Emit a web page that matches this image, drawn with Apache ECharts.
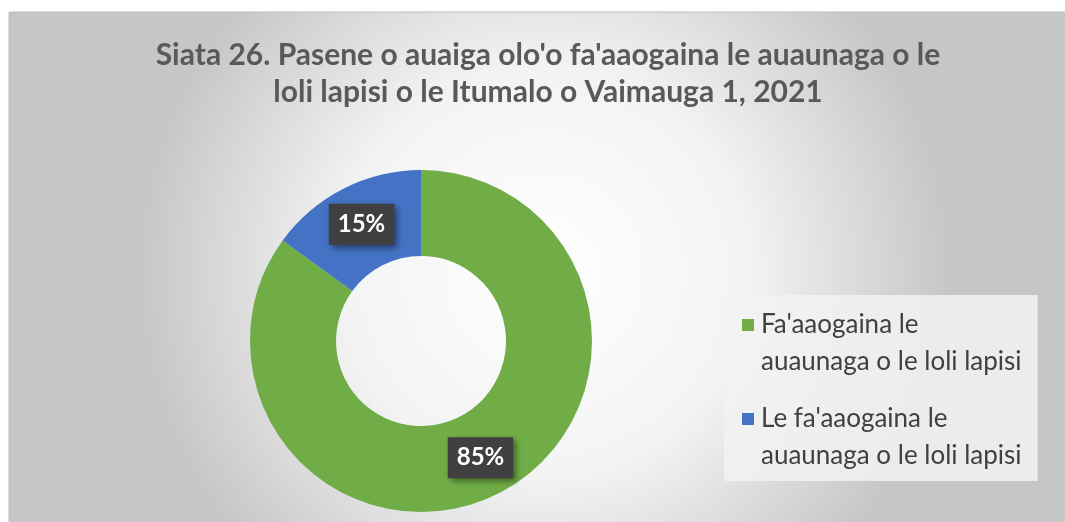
<!DOCTYPE html>
<html>
<head>
<meta charset="utf-8">
<script src="https://cdn.jsdelivr.net/npm/echarts@6/dist/echarts.min.js"></script>
<style>
  html, body { margin: 0; padding: 0; background: #ffffff; }
  #main { width: 1065px; height: 522px; }
</style>
</head>
<body>
<div id="main"></div>
<script>
// 数据
const categories = [
  "Fa'aaogaina le auaunaga o le loli lapisi",
  "Le fa'aaogaina le auaunaga o le loli lapisi"
]
// 图例分两行显示
const legendLines = [
  ["Fa'aaogaina le", "auaunaga o le loli lapisi"],
  ["Le fa'aaogaina le", "auaunaga o le loli lapisi"]
]
const values = [85, 15]
const colors = ['#70ad47', '#4472c4']
const titleText = "Siata 26. Pasene o auaiga olo'o fa'aaogaina le auaunaga o le\nloli lapisi o le Itumalo o Vaimauga 1, 2021"

const myChart = echarts.init(document.getElementById('main'), null, { renderer: 'canvas' })

const legendRich = {
  t: { fontFamily: 'Lato', fontSize: 26, lineHeight: 37, color: '#404040', padding: [0, 0, 0, 7] },
  t2: { fontFamily: 'Lato', fontSize: 26, lineHeight: 37, color: '#404040', padding: [0, 0, 0, 19] }
}
colors.forEach((c, i) => {
  legendRich['sq' + i] = { backgroundColor: c, width: 12, height: 12 }
})

const option = {
  animation: false,
  graphic: [
    {
      type: 'rect',
      z: -10,
      silent: true,
      shape: { x: 9, y: 12, width: 1070, height: 520 },
      style: {
        fill: new echarts.graphic.RadialGradient(0.5, 0.5, 0.78, [
          { offset: 0, color: '#ffffff' },
          { offset: 0.5, color: '#f3f3f3' },
          { offset: 1, color: '#c6c6c6' }
        ]),
        stroke: '#bfbfbf',
        lineWidth: 1
      }
    }
  ],
  title: {
    text: titleText,
    left: 543,
    textAlign: 'center',
    top: 32,
    textStyle: {
      fontFamily: 'Lato',
      fontWeight: 'bold',
      fontSize: 30,
      lineHeight: 37,
      color: '#595959'
    }
  },
  legend: {
    orient: 'vertical',
    left: 724,
    top: 295,
    padding: [17, 16, 12, 13],
    itemGap: 31,
    itemWidth: 0,
    itemHeight: 0,
    icon: 'none',
    backgroundColor: 'rgba(242,242,242,0.85)',
    data: categories,
    formatter: function (name) {
      const i = categories.indexOf(name)
      return '{sq' + i + '|}{t|' + legendLines[i][0] + '}\n{t2|' + legendLines[i][1] + '}'
    },
    textStyle: { rich: legendRich }
  },
  series: [
    {
      type: 'pie',
      center: [421, 341],
      radius: [85, 171],
      startAngle: 90,
      clockwise: true,
      avoidLabelOverlap: false,
      color: colors,
      itemStyle: { borderWidth: 0 },
      label: {
        show: true,
        position: 'inside',
        formatter: '{c}%',
        fontFamily: 'Lato',
        fontWeight: 'bold',
        fontSize: 24,
        color: '#ffffff',
        backgroundColor: '#404040',
        padding: [9, 9, 8, 9],
        shadowColor: 'rgba(0,0,0,0.45)',
        shadowBlur: 6,
        shadowOffsetX: 3,
        shadowOffsetY: 3
      },
      labelLine: { show: false },
      emphasis: { disabled: true },
      data: categories.map((name, i) => ({ name: name, value: values[i] }))
    }
  ]
}

myChart.setOption(option)
window.onresize = function () {
  myChart.resize()
}
</script>
</body>
</html>
